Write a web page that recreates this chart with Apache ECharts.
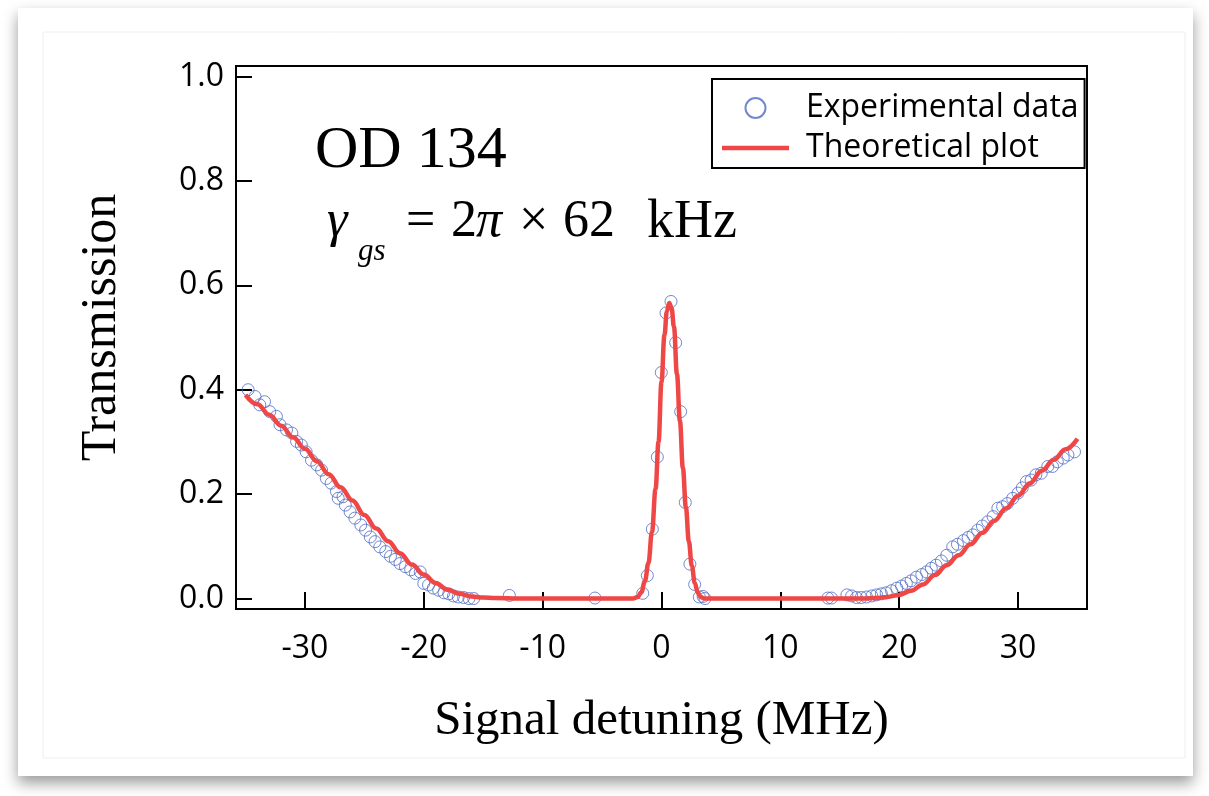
<!DOCTYPE html>
<html>
<head>
<meta charset="utf-8">
<script src="https://cdn.jsdelivr.net/npm/echarts@6/dist/echarts.min.js"></script>
<style>
  html, body { margin: 0; padding: 0; background: #ffffff; }
  #chart { width: 1209px; height: 796px; }
</style>
</head>
<body>
<div id="chart"></div>
<script>
  // measured points (detuning in MHz, transmission)
  const expX = [
    -34.78, -34.2, -33.8, -33.4, -32.96, -32.4, -32.1, -31.55, -31.1, -30.7,
    -30.3, -29.9, -29.45, -29.0, -28.6, -28.2, -27.8, -27.35, -27.2, -26.8,
    -26.6, -26.2, -25.8, -25.3, -24.9, -24.5, -24.1, -23.7, -23.2, -22.8,
    -22.4, -22.0, -21.55, -21.1, -20.7, -20.3, -20.0, -19.6, -19.2, -18.75,
    -18.3, -17.9, -17.5, -17.1, -16.65, -16.2, -15.8, -12.8, -5.6,
    -1.58, -1.19, -0.77, -0.35, -0.02, 0.38, 0.8, 1.19, 1.61, 2.0,
    2.39, 2.79, 3.18, 3.5, 3.66,
    14.0, 14.3, 15.6, 16.0, 16.4, 16.8, 17.25, 17.7, 18.1, 18.5,
    18.9, 19.35, 19.8, 20.2, 20.6, 21.0, 21.45, 21.9, 22.3, 22.7,
    23.1, 23.55, 24.0, 24.5, 24.9, 25.4, 25.8, 26.2, 26.6, 27.0,
    27.45, 27.9, 28.3, 28.7, 29.1, 29.55, 30.0, 30.35, 30.7, 31.1,
    31.5, 31.95, 32.5, 32.9, 33.3, 33.8, 34.2, 34.75
  ];
  const expY = [
    0.400, 0.387, 0.371, 0.377, 0.358, 0.349, 0.333, 0.323, 0.317, 0.301,
    0.294, 0.281, 0.265, 0.256, 0.246, 0.230, 0.221, 0.205, 0.192, 0.195,
    0.179, 0.166, 0.154, 0.141, 0.131, 0.118, 0.109, 0.099, 0.090, 0.081,
    0.075, 0.067, 0.061, 0.055, 0.048, 0.051, 0.029, 0.026, 0.020, 0.016,
    0.011, 0.009, 0.005, 0.003, 0.002, 0.000, 0.000, 0.006, 0.001,
    0.010, 0.044, 0.133, 0.271, 0.433, 0.547, 0.569, 0.490, 0.358, 0.184,
    0.066, 0.027, 0.003, 0.004, 0.000,
    0.001, 0.001, 0.007, 0.005, 0.002, 0.002, 0.003, 0.005, 0.007, 0.009,
    0.011, 0.015, 0.020, 0.024, 0.029, 0.034, 0.041, 0.046, 0.051, 0.058,
    0.064, 0.072, 0.083, 0.099, 0.104, 0.111, 0.117, 0.122, 0.131, 0.139,
    0.147, 0.157, 0.173, 0.176, 0.182, 0.192, 0.202, 0.212, 0.224, 0.227,
    0.237, 0.240, 0.253, 0.253, 0.262, 0.269, 0.275, 0.281
  ];

  // theoretical curve
  const theoryX = [
    -35, -34, -33, -32, -31, -30, -29, -28, -27, -26, -25, -24, -23, -22, -21,
    -20, -19, -18, -17, -16, -15, -14, -12, -8, -4, -2.4, -2.0, -1.7, -1.4,
    -1.1, -0.8, -0.5, -0.25, 0, 0.25, 0.45, 0.65, 0.85, 1.05, 1.3, 1.55, 1.8,
    2.05, 2.3, 2.55, 2.8, 3.05, 3.3, 3.6, 4, 8, 12, 16, 17, 18, 19, 20, 21,
    22, 23, 24, 25, 26, 27, 28, 29, 30, 31, 32, 33, 34, 35
  ];
  const theoryY = [
    0.390, 0.372, 0.352, 0.331, 0.309, 0.287, 0.263, 0.238, 0.213, 0.188, 0.160, 0.134, 0.110, 0.087, 0.065,
    0.046, 0.030, 0.017, 0.009, 0.004, 0.002, 0.001, 0.000, 0.000, 0.000, 0.000, 0.003, 0.012, 0.033,
    0.068, 0.128, 0.210, 0.300, 0.415, 0.505, 0.550, 0.566, 0.556, 0.520, 0.430, 0.340, 0.250,
    0.175, 0.110, 0.063, 0.030, 0.011, 0.003, 0.000, 0.000, 0.000, 0.000, 0.000, 0.000, 0.001, 0.003, 0.007, 0.015,
    0.027, 0.045, 0.064, 0.083, 0.104, 0.126, 0.149, 0.173, 0.197, 0.221, 0.245, 0.266, 0.286, 0.306
  ];

  const xTicks = [-30, -20, -10, 0, 10, 20, 30];
  const yTicks = [0, 0.2, 0.4, 0.6, 0.8, 1.0];

  const sans = '"Open Sans", Lato, sans-serif';
  const serif = '"Liberation Serif", "DejaVu Serif", serif';

  const chart = echarts.init(document.getElementById('chart'));

  // helper for the annotation pieces (y is the top of the text box)
  const label = (text, x, y, font) => ({
    type: 'text',
    x: x,
    y: y,
    style: { text: text, font: font, fill: '#000' },
  });

  const option = {
    backgroundColor: '#ffffff',
    animation: false,
    graphic: [
      {
        type: 'rect',
        z: -10,
        shape: { x: 18, y: 8, width: 1175, height: 768 },
        style: { fill: '#ffffff', shadowBlur: 14, shadowColor: 'rgba(0,0,0,0.4)', shadowOffsetY: 7 },
      },
      {
        type: 'rect',
        z: -9,
        shape: { x: 43, y: 32, width: 1142, height: 726 },
        style: { fill: 'none', stroke: '#eeeeee', lineWidth: 1 },
      },
      label('OD 134', 315, 121, '60px ' + serif),
      label('γ', 327, 196, 'italic 52px ' + serif),
      label('gs', 358, 236, 'italic 31px ' + serif),
      label('=', 406, 196, '52px ' + serif),
      label('2', 451, 196, '52px ' + serif),
      label('π', 476, 196, 'italic 52px ' + serif),
      label('×', 519, 196, '52px ' + serif),
      label('62', 563, 196, '52px ' + serif),
      label('kHz', 647, 196, '54px ' + serif),
    ],
    legend: {
      left: 712,
      top: 79,
      orient: 'vertical',
      itemWidth: 67,
      itemHeight: 20,
      itemGap: 8,
      padding: [13, 6, 4, 10],
      borderColor: '#000',
      borderWidth: 2,
      textStyle: { fontFamily: sans, fontSize: 32, color: '#000', padding: [0, 0, 0, 12] },
      data: [
        { name: 'Experimental data' },
        { name: 'Theoretical plot', icon: 'path://M0,0 L67,0 L67,4.5 L0,4.5 Z' },
      ],
    },
    grid: {
      show: true,
      left: 236,
      right: 122,
      top: 66,
      bottom: 187,
      borderColor: '#000',
      borderWidth: 2,
      containLabel: false,
    },
    xAxis: {
      type: 'value',
      min: -35.8,
      max: 35.8,
      name: 'Signal detuning (MHz)',
      nameLocation: 'middle',
      nameGap: 88,
      nameTextStyle: { fontFamily: serif, fontSize: 49, color: '#000' },
      splitLine: { show: false },
      axisLine: { show: true, onZero: false, lineStyle: { color: '#000', width: 2 } },
      axisTick: { show: true, inside: true, length: 17, customValues: xTicks, lineStyle: { color: '#000', width: 2 } },
      axisLabel: { customValues: xTicks, margin: 24, fontFamily: sans, fontSize: 32, color: '#000' },
    },
    yAxis: {
      type: 'value',
      min: -0.02,
      max: 1.02,
      name: 'Transmission',
      nameLocation: 'middle',
      nameRotate: 90,
      nameGap: 109,
      nameTextStyle: { fontFamily: serif, fontSize: 50, color: '#000', padding: [0, 0, 0, 20] },
      splitLine: { show: false },
      axisLine: { show: true, onZero: false, lineStyle: { color: '#000', width: 2 } },
      axisTick: { show: true, inside: true, length: 16, customValues: yTicks, lineStyle: { color: '#000', width: 2 } },
      axisLabel: {
        customValues: yTicks,
        margin: 12,
        fontFamily: sans,
        fontSize: 32,
        color: '#000',
        formatter: (v) => v.toFixed(1),
      },
    },
    series: [
      {
        name: 'Experimental data',
        type: 'scatter',
        symbol: 'circle',
        symbolSize: 12,
        itemStyle: { color: 'rgba(255,255,255,0)', borderColor: '#4d6cc4', borderWidth: 1 },
        data: expX.map((x, i) => [x, expY[i]]),
        z: 2,
      },
      {
        name: 'Theoretical plot',
        type: 'line',
        symbol: 'none',
        smooth: 0.4,
        smoothMonotone: 'x',
        lineStyle: { color: '#ef4646', width: 4.5 },
        itemStyle: { color: '#ef4646' },
        data: theoryX.map((x, i) => [x, theoryY[i]]),
        z: 3,
      },
    ],
  };

  chart.setOption(option);
</script>
</body>
</html>
